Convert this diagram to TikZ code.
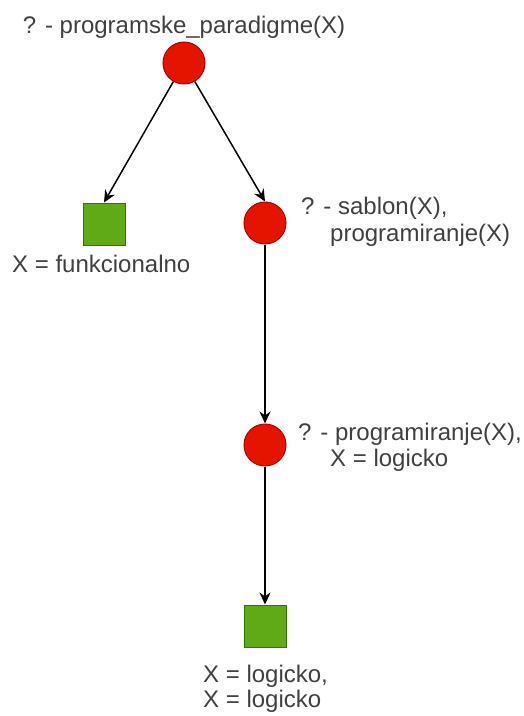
\documentclass[tikz,border=0pt]{standalone}
\usepackage{fontspec}
\setmainfont{Liberation Sans}
\usetikzlibrary{arrows.meta}
\definecolor{goalred}{HTML}{E51400}
\definecolor{goalredline}{HTML}{B20000}
\definecolor{leafgreen}{HTML}{60A917}
\definecolor{leafgreenline}{HTML}{2D7600}
\definecolor{txt}{HTML}{404040}
\tikzset{
  goal/.style={circle, fill=goalred, draw=goalredline, line width=1pt, minimum size=42pt, inner sep=0pt},
  leaf/.style={rectangle, fill=leafgreen, draw=leafgreenline, line width=1pt, minimum size=42pt, inner sep=0pt},
  lbl/.style={inner sep=0pt, text=txt, font=\fontsize{24pt}{27pt}\selectfont},
  edge/.style={line width=1.5pt, -{Stealth[length=12pt,width=11pt]}}
}
\begin{document}
\begin{tikzpicture}[x=1pt,y=-1pt]
\useasboundingbox (0,0) rectangle (523,716);
\node[goal] (root) at (184,63) {};
\node[leaf] (sqL) at (104,224) {};
\node[goal] (c2) at (265,223) {};
\node[goal] (c3) at (265,445) {};
\node[leaf] (sqB) at (265,626) {};

\node[lbl, anchor=base] (lroot) at (184,33) {? - programske\_paradigme(X)};
\node[lbl, anchor=base west] (lsqL) at (12,272) {X = funkcionalno};
\node[lbl, anchor=base west] (lc2a) at (301,214) {? - sablon(X),};
\node[lbl, anchor=base west] (lc2b) at (330,241) {programiranje(X)};
\node[lbl, anchor=base west] (lc3a) at (298,440) {? - programiranje(X),};
\node[lbl, anchor=base west] (lc3b) at (330,466) {X = logicko};
\node[lbl, anchor=base west] (lsqBa) at (203,682) {X = logicko,};
\node[lbl, anchor=base west] (lsqBb) at (203,707) {X = logicko};

\draw[edge] (root) -- (sqL.north);
\draw[edge] (root) -- (c2.north);
\draw[edge] (c2) -- (c3);
\draw[edge] (c3) -- (sqB);
\end{tikzpicture}
\end{document}
